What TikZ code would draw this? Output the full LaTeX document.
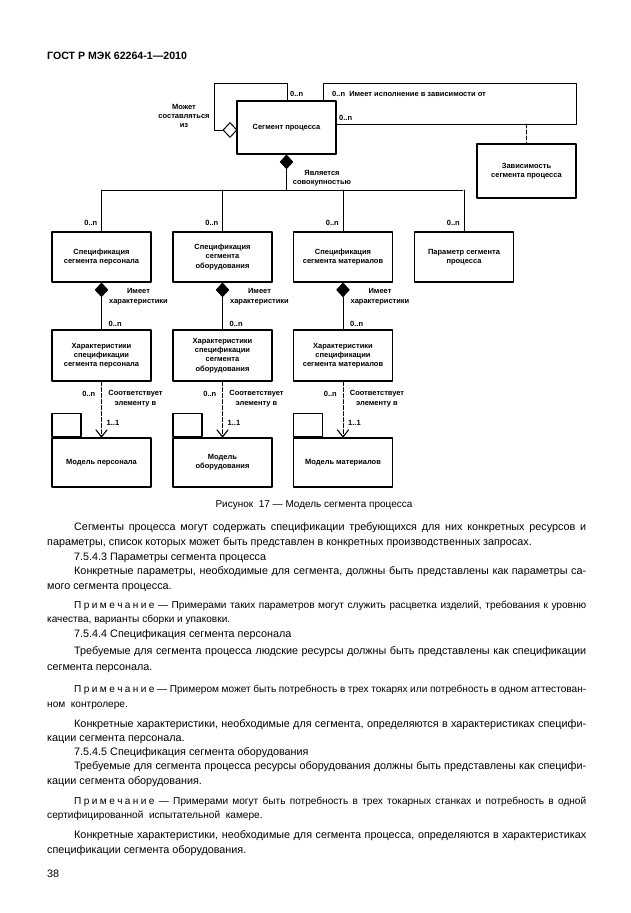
\documentclass[tikz,border=0pt]{standalone}
\usepackage{fontspec}
\setmainfont{Liberation Sans}
\usetikzlibrary{arrows.meta,shapes.geometric}

\newcommand\dgmfont{\fontsize{7.5}{9.3}\selectfont\bfseries}
\newcommand\bodyfont{\fontsize{10.8}{15}\selectfont}
\newcommand\notefont{\fontsize{10.1}{15}\selectfont}
\newcommand\fillline[1]{\makebox[512pt][s]{#1}}
\newcommand\primech{П\kern2.4pt р\kern2.4pt и\kern2.4pt м\kern2.4pt е\kern2.4pt ч\kern2.4pt а\kern2.4pt н\kern2.4pt и\kern2.4pt е}

\tikzset{
  box/.style={draw,line width=1.1pt,minimum width=99pt,minimum height=51pt,inner sep=1pt,align=center,font=\dgmfont},
  pkgtab/.style={draw,line width=1.1pt,minimum width=29pt,minimum height=23pt,inner sep=0pt},
  fdia/.style={diamond,fill=black,draw,line width=0.6pt,minimum width=13pt,minimum height=14pt,inner sep=0pt},
  odia/.style={diamond,fill=white,draw,line width=1pt,minimum width=14pt,minimum height=15pt,inner sep=0pt},
  lbl/.style={font=\dgmfont,inner sep=0pt,align=center},
  conn/.style={line width=0.9pt},
  depline/.style={line width=0.9pt,dash pattern=on 4pt off 2pt},
  txt/.style={anchor=base west,inner sep=0pt,font=\bodyfont},
  notetxt/.style={anchor=base west,inner sep=0pt,font=\notefont}
}

\begin{document}
\begin{tikzpicture}[line cap=round,line join=round,x=1pt,y=-1pt]
	\fill[white] (0,0) rectangle (630,913);
	\useasboundingbox (0,0) rectangle (630,913);
	\node[anchor=base west,inner sep=0pt,font=\fontsize{10.6}{12}\selectfont\bfseries] (hdr) at (47,59) {ГОСТ Р МЭК 62264-1---2010};
	% process segment and its self links
	\node[box,minimum height=53pt] (ps) at (286.5,127.5) {Сегмент процесса};
	\node[box,minimum height=54pt] (psd) at (526.5,171) {Зависимость\\сегмента процесса};
	\node[odia] (cmp) at (230,130) {};
	\coordinate (lpA) at (214,83);
	\coordinate (lpB) at (287,83);
	\coordinate (rpA) at (323,83);
	\coordinate (rpB) at (576,83);
	\coordinate (rpC) at (576,124);
	\draw[conn] (cmp.west) -| (lpA) -- (lpB) -- (lpB |- ps.north);
	\draw[conn] (rpA |- ps.north) -- (rpA) -- (rpB) -- (rpC) -- (rpC -| ps.east);
	\draw[depline] (psd.north |- rpC) -- (psd.north);
	\node[lbl] (lbcmp) at (184,116) {Может\\составляться\\из};
	\node[lbl,anchor=west] (m1) at (290,94) {0..n};
	\node[lbl,anchor=west] (m2) at (332,94) {0..n\ \ Имеет исполнение в зависимости от};
	\node[lbl,anchor=west] (m3) at (339,118) {0..n};
	% aggregation bus
	\node[fdia,anchor=north] (agg) at (ps.south) {};
	\coordinate (busL) at (102,190);
	\coordinate (busR) at (463,190);
	\draw[conn] (agg.south) -- (agg.south |- busL);
	\draw[conn] (busL) -- (busR);
	\node[lbl] (lbagg) at (322,178) {Является\\совокупностью};
	% specifications
	\node[box,minimum height=50pt] (spp) at (101.5,257) {Спецификация\\сегмента персонала};
	\node[box,minimum height=50pt] (spe) at (222.5,257) {Спецификация\\сегмента\\оборудования};
	\node[box,minimum height=50pt] (spm) at (343,257) {Спецификация\\сегмента материалов};
	\node[box,minimum height=50pt] (spr) at (464,257) {Параметр сегмента\\процесса};
	\foreach \s in {spp,spe,spm,spr}{
		\draw[conn] (\s.north) -- (\s.north |- busL);
		\node[lbl,anchor=east] at ([xshift=-4pt,yshift=9pt]\s.north) {0..n};
	}
	% properties
	\node[box] (chp) at (101.5,355.5) {Характеристики\\спецификации\\сегмента персонала};
	\node[box] (che) at (222.5,355.5) {Характеристики\\спецификации\\сегмента\\оборудования};
	\node[box] (chm) at (343,355.5) {Характеристики\\спецификации\\сегмента материалов};
	% models
	\node[box,minimum height=49pt] (mdp) at (101.5,462.5) {Модель персонала};
	\node[box,minimum height=49pt] (mde) at (222.5,462.5) {Модель\\оборудования};
	\node[box,minimum height=49pt] (mdm) at (343,462.5) {Модель материалов};
	\foreach \s/\c/\m in {spp/chp/mdp,spe/che/mde,spm/chm/mdm}{
		\node[fdia,anchor=north] (\s d) at (\s.south) {};
		\draw[conn] (\s d.south) -- (\c.north);
		\node[lbl] at ([xshift=37pt,yshift=-14pt]\s.south) {Имеет\\характеристики};
		\node[lbl,anchor=west] at ([xshift=7pt,yshift=6pt]\c.north) {0..n};
		\node[pkgtab,anchor=south west] at (\m.north west) {};
		\draw[depline,-{Straight Barb[length=7pt,width=11pt,line width=1.1pt,round]}] (\c.south) -- (\m.north);
		\node[lbl,anchor=east] at ([xshift=-6pt,yshift=-12pt]\c.south) {0..n};
		\node[lbl] at ([xshift=34pt,yshift=-17pt]\c.south) {Соответствует\\элементу в};
		\node[lbl,anchor=west] at ([xshift=5pt,yshift=15pt]\m.north) {1..1};
	}
	% caption and text
	\node[anchor=base,inner sep=0pt,font=\fontsize{10}{12}\selectfont] (cap) at (314,507) {Рисунок\ \ 17 --- Модель сегмента процесса};
	\node[txt] (t1) at (74,530) {\fillline{Сегменты процесса могут содержать спецификации требующихся для них конкретных ресурсов и}};
	\node[txt] (t2) at (47,545) {параметры, список которых может быть представлен в конкретных производственных запросах.};
	\node[txt] (t3) at (74,560) {7.5.4.3 Параметры сегмента процесса};
	\node[txt] (t4) at (74,574) {\fillline{Конкретные параметры, необходимые для сегмента, должны быть представлены как параметры са-}};
	\node[txt] (t5) at (47,589) {мого сегмента процесса.};
	\node[notetxt] (t6) at (74,608) {\fillline{\primech\ --- Примерами таких параметров могут служить расцветка изделий, требования к уровню}};
	\node[notetxt] (t7) at (47,622) {качества, варианты сборки и упаковки.};
	\node[txt] (t8) at (74,637) {7.5.4.4 Спецификация сегмента персонала};
	\node[txt] (t9) at (74,654) {\fillline{Требуемые для сегмента процесса людские ресурсы должны быть представлены как спецификации}};
	\node[txt] (t10) at (47,670) {сегмента персонала.};
	\node[notetxt] (t11) at (74,692) {\fillline{\primech\ --- Примером может быть потребность в трех токарях или потребность в одном аттестован-}};
	\node[notetxt] (t12) at (47,707) {ном\ \ контролере.};
	\node[txt] (t13) at (74,727) {\fillline{Конкретные характеристики, необходимые для сегмента, определяются в характеристиках специфи-}};
	\node[txt] (t14) at (47,741) {кации сегмента персонала.};
	\node[txt] (t15) at (74,755) {7.5.4.5 Спецификация сегмента оборудования};
	\node[txt] (t16) at (74,769) {\fillline{Требуемые для сегмента процесса ресурсы оборудования должны быть представлены как специфи-}};
	\node[txt] (t17) at (47,784) {кации сегмента оборудования.};
	\node[notetxt] (t18) at (74,804) {\fillline{\primech\ --- Примерами могут быть потребность в трех токарных станках и потребность в одной}};
	\node[notetxt] (t19) at (47,818) {сертифицированной\ \ испытательной\ \ камере.};
	\node[txt] (t20) at (74,838) {\fillline{Конкретные характеристики, необходимые для сегмента процесса, определяются в характеристиках}};
	\node[txt] (t21) at (47,853) {спецификации сегмента оборудования.};
	\node[txt] (pg) at (47,877) {38};
\end{tikzpicture}
\end{document}
